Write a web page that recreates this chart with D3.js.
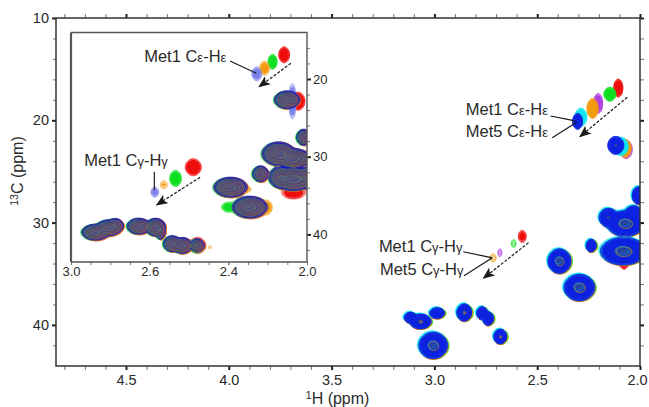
<!DOCTYPE html>
<html><head><meta charset="utf-8">
<script src="https://cdn.jsdelivr.net/npm/d3@7"></script>
<style>
html,body{margin:0;padding:0;background:#fff}
svg{display:block}
text{font-family:"Liberation Sans",Arial,sans-serif;fill:#2a2a2a}
</style></head><body>
<svg id="c" width="649" height="407"></svg>
<script>
// Peak format: [1H ppm, 13C ppm, 1H half-width, 13C half-width, intensity]
const mainSharedPeaks = [
 [2.394,33.72,.056,1.2,200],[2.297,36.30,.075,1.3,200],[2.240,32.20,.024,.62,60],
 [2.083,32.75,.112,1.35,200],[2.156,29.45,.045,.9,100],[2.073,30.04,.092,1.25,200],
 [2.034,29.06,.042,.75,80],[2.010,27.30,.030,.85,80],[3.070,39.62,.052,.72,120],
 [3.119,39.23,.030,.52,40],[2.989,38.80,.036,.52,80],[2.857,38.74,.036,.84,120],
 [2.770,38.80,.026,.62,80],[2.741,39.33,.026,.66,80],[2.682,41.09,.031,.72,120],
 [3.008,41.96,.07,1.3,200]
];
const mainRedPeaks    = [[2.108,16.8,.022,.88,30],[2.575,31.3,.019,.59,6],[2.08,33.9,.02,.6,10]];
const mainGreenPeaks  = [[2.149,17.4,.029,.68,30],[2.617,32.0,.012,.39,2.2],[2.07,22.7,.025,.6,20]];
const mainPurplePeaks = [[2.206,18.3,.022,.98,16],[2.684,32.9,.010,.39,2.2],[2.07,22.8,.03,.9,20]];
const mainOrangePeaks = [[2.233,18.8,.027,.98,30],[2.717,33.4,.015,.39,2.3],[2.075,22.7,.03,.9,40]];
const mainCyanPeaks   = [[2.290,19.65,.029,.88,30],[2.095,22.5,.035,.9,60]];
const mainBluePeaks   = [[2.306,20.05,.024,.78,40],[2.12,22.4,.039,.88,100]];

const insetSharedPeaks = [
 [2.086,22.61,.055,1.15,200],[2.326,33.86,.072,1.29,200],[2.244,36.43,.076,1.42,200],
 [2.199,32.14,.034,1.03,100],[2.122,29.56,.072,1.54,200],[2.059,30.17,.076,1.29,200],
 [2.016,27.43,.030,1.03,100],[2.059,32.78,.085,1.54,200],[2.114,32.57,.050,1.40,100],
 [2.004,32.60,.040,1.40,100],[2.898,39.65,.059,1.03,200],[2.842,39.09,.055,1.03,200],
 [2.814,38.79,.034,.90,100],[2.715,38.88,.050,1.03,200],[2.644,39.00,.042,1.15,200],
 [2.623,39.43,.021,1.15,100],[2.573,41.14,.038,1.03,200],[2.531,41.36,.042,1.03,200],
 [2.467,41.36,.030,.84,120]
];
const insetRedPeaks    = [[2.099,16.82,.023,1.03,30],[2.484,31.29,.034,1.09,30],[2.039,22.8,.028,1.15,30],[2.059,34.6,.05,.77,12],[2.467,41.3,.034,.98,12]];
const insetGreenPeaks  = [[2.148,17.72,.019,.97,25],[2.559,32.74,.025,1.03,25],[2.335,36.43,.03,.64,8],[2.467,41.5,.03,.8,12]];
const insetOrangePeaks = [[2.182,18.55,.021,.90,8],[2.609,33.55,.015,.51,2.9],[2.17,36.47,.02,.9,6],[2.253,34.16,.013,.32,2.4],[2.414,41.58,.008,.2,1.6]];
const insetPalePeaks   = [[2.215,19.27,.021,.90,8],[2.647,34.50,.017,.64,5],[2.064,22.8,.015,2.3,12]];

const mainXMajor = [4.5,4.0,3.5,3.0,2.5,2.0];
const mainXLabels = ["4.5","4.0","3.5","3.0","2.5","2.0"];
const mainYMajor = [10,20,30,40];
const insetYMajor = [20,30,40];
const insetXLabels = ["3.0","2.6","2.4","2.0"];

const colors = {red:"#f01010",green:"#10e020",purple:"#b040e0",orange:"#f49a10",cyan:"#10e8f0",blue:"#0a20e0",navy:"#1c1cb8",pale:"#7880e8"};

const svg = d3.select("#c");
const L=56,R=640,T=18,B=366;
const x = d3.scaleLinear().domain([2+(R-L)/205.6,2]).range([L,R]);
const y = d3.scaleLinear().domain([10,10+(B-T)/10.23]).range([T,B]);
const iL=71,iR=307,iT=32.5,iB=262;
const ix = d3.scaleLinear().domain([3,2]).range([iL,iR]);
const iy = d3.scaleLinear().domain([20+(iT-79)/7.77,20+(iB-79)/7.77]).range([iT,iB]);
const insetLabelPos = d3.scalePoint().domain(insetXLabels).range([iL,iR]);

const levels = d3.range(26).map(i=>Math.pow(1.25,i));
const fillLevel = 4;

function field(peaks,sx,sy,x0,y0,W,H){
  const v=new Float64Array(W*H);
  for(const [h,c,rh,rc,a] of peaks){
    const cx=sx(h)-x0, cy=sy(c)-y0;
    const rx=Math.abs(sx(h+rh)-sx(h)), ry=Math.abs(sy(c+rc)-sy(c));
    const k=Math.sqrt(2*Math.log(a));
    const sxx=rx/k, syy=ry/k;
    const xa=Math.max(0,Math.floor(cx-4*sxx)), xb=Math.min(W-1,Math.ceil(cx+4*sxx));
    const ya=Math.max(0,Math.floor(cy-4*syy)), yb=Math.min(H-1,Math.ceil(cy+4*syy));
    for(let j=ya;j<=yb;j++)for(let i=xa;i<=xb;i++){
      const dx=(i-cx)/sxx, dy=(j-cy)/syy;
      v[j*W+i]+=a*Math.exp(-.5*(dx*dx+dy*dy));
    }
  }
  return v;
}
function stack(g,series,sx,sy,x0,y0,W,H,mixStart,strokeW,core){
  const path=d3.geoPath(d3.geoTransform({point(a,b){this.stream.point(x0+a,y0+b);}}));
  const gen=d3.contours().size([W,H]).thresholds(levels);
  const rows=series.map(s=>({color:s.color,cs:gen(field(s.peaks,sx,sy,x0,y0,W,H)),shared:s.shared}));
  const draw=(color,c,op=1)=>{ if(c.coordinates.length) g.append("path").attr("d",path(c)).attr("fill","none")
      .attr("stroke",color).attr("stroke-width",strokeW).attr("stroke-opacity",op); };
  const fill=(color,c)=>{ if(c.coordinates.length) g.append("path").attr("d",path(c)).attr("fill",color); };
  rows.forEach(r=>{
    r.cs.forEach((c,i)=>{ if(i<=fillLevel) draw(r.color,c); });
    fill(r.color,r.cs[fillLevel]);
  });
  const mix=rows.filter(r=>r.shared);
  const top=mix[mix.length-1];
  fill(core.color,top.cs[core.level]);
  for(let i=mixStart;i<levels.length;i++){
    if(i===core.whiteLevel) fill("#f0f0f0",top.cs[i]);
    const r=mix[i%mix.length];
    draw(r.color,r.cs[i],core.ringOpacity);
    if(i%2===0) draw(top.color,top.cs[i],core.ringOpacity);
  }
}
const shifted=(list,dh,dc,s=1)=>list.map(([h,c,a,b,m])=>[h+dh,c+dc,a*s,b*s,m]);

// ---- clip paths and blur
const defs=svg.append("defs");
defs.append("clipPath").attr("id","mc").append("rect").attr("x",L).attr("y",T).attr("width",R-L).attr("height",B-T);
defs.append("clipPath").attr("id","ic").append("rect").attr("x",iL).attr("y",iT).attr("width",iR-iL).attr("height",iB-iT);
defs.append("filter").attr("id","soft").append("feGaussianBlur").attr("stdDeviation",.35);
defs.append("marker").attr("id","ah").attr("viewBox","0 0 12 10").attr("refX",11).attr("refY",5)
  .attr("markerWidth",12).attr("markerHeight",10).attr("markerUnits","userSpaceOnUse").attr("orient","auto")
  .append("path").attr("d","M0,0 L12,5 L0,10 L3,5 Z").attr("fill","#1a1a1a");

// ---- main contours
const mainG=svg.append("g").attr("clip-path","url(#mc)").append("g").attr("filter","url(#soft)");
stack(mainG,[
  {color:colors.red,shared:true,peaks:[...shifted(mainSharedPeaks,.001,.05),...mainRedPeaks]},
  {color:colors.green,shared:true,peaks:[...shifted(mainSharedPeaks,-.007,.03),...mainGreenPeaks]},
  {color:colors.purple,shared:true,peaks:[...shifted(mainSharedPeaks,-.001,0),...mainPurplePeaks]},
  {color:colors.orange,shared:true,peaks:[...shifted(mainSharedPeaks,-.003,.06),...mainOrangePeaks]},
  {color:colors.cyan,shared:true,peaks:[...shifted(mainSharedPeaks,.005,-.08,1.03),...mainCyanPeaks]},
  {color:colors.blue,shared:true,peaks:[...mainSharedPeaks,...mainBluePeaks]}
],x,y,340,T,R-340,B-T,21,.6,{level:20,color:"#2a4a9a",whiteLevel:25,ringOpacity:.8});

// ---- main axes
function styleAxis(g,major){
  g.select(".domain").remove();
  g.selectAll("line").attr("stroke",major?"#222":"#777").attr("stroke-width",major?2:1);
}
const minorX=d3.range(21,49).map(d=>d/10), minorY=d3.range(10,44,2);
const ax=(gen,tx,ty,vals,size,major,fmt,pad=5)=>{
  const g=svg.append("g").attr("transform",`translate(${tx},${ty})`)
    .call(gen.tickValues(vals).tickSize(size).tickPadding(pad).tickFormat(fmt||(()=>"")));
  styleAxis(g,major);
  return g;
};
ax(d3.axisBottom(x),0,B,minorX,4,false);
ax(d3.axisTop(x),0,T,minorX,4,false);
ax(d3.axisLeft(y),L,0,minorY,3,false);
ax(d3.axisRight(y),R,0,minorY,4,false);
const xLabelled=ax(d3.axisBottom(x),0,B,mainXMajor,4,true,(d,i)=>mainXLabels[i]);
xLabelled.selectAll("text").attr("font-size",14.5).attr("dx",(d,i)=>i===mainXMajor.length-1?-3:0);
ax(d3.axisTop(x),0,T,mainXMajor,4,true);
ax(d3.axisLeft(y),L,0,mainYMajor,4,true,d=>d,3).selectAll("text").attr("font-size",14.5);
ax(d3.axisRight(y),R,0,mainYMajor,4,true);
svg.append("rect").attr("x",L).attr("y",T).attr("width",R-L).attr("height",B-T)
  .attr("fill","none").attr("stroke","#333").attr("stroke-width",1.5);

// ---- inset
svg.append("rect").attr("x",iL).attr("y",iT).attr("width",iR-iL).attr("height",iB-iT).attr("fill","#fff");
const insetG=svg.append("g").attr("clip-path","url(#ic)").append("g").attr("filter","url(#soft)");
stack(insetG,[
  {color:colors.red,shared:true,peaks:[...shifted(insetSharedPeaks,-.003,.08),...insetRedPeaks]},
  {color:colors.green,shared:true,peaks:[...shifted(insetSharedPeaks,.004,.03),...insetGreenPeaks]},
  {color:colors.orange,shared:true,peaks:[...shifted(insetSharedPeaks,-.003,.06),...insetOrangePeaks]},
  {color:colors.pale,shared:false,peaks:[...insetPalePeaks]},
  {color:colors.navy,shared:true,peaks:[...insetSharedPeaks]}
],ix,iy,iL,iT,iR-iL,iB-iT,9,.45,{level:7,color:"#58587a",whiteLevel:24,ringOpacity:.55});
const iMinorY=d3.range(16,44,2);
ax(d3.axisRight(iy),iR,0,iMinorY,3,false);
ax(d3.axisRight(iy),iR,0,insetYMajor,4,true,d=>d,2).selectAll("text").attr("font-size",13);
const iMinorX=d3.range(0,13).map(i=>3-i/12);
ax(d3.axisBottom(ix),0,iB,iMinorX,3,false);
const ilab=svg.append("g").attr("transform",`translate(0,${iB})`)
  .call(d3.axisBottom(insetLabelPos).tickSize(3).tickPadding(2));
styleAxis(ilab,false);
ilab.selectAll("text").attr("font-size",13);
svg.append("path").attr("d",`M${iL},${iB}V${iT}`).attr("stroke","#555").attr("stroke-width",2.2).attr("fill","none");
svg.append("path").attr("d",`M${iL},${iT}H${iR}V${iB}H${iL}`).attr("stroke","#555").attr("stroke-width",1.4).attr("fill","none");

// ---- annotations (ppm anchors)
const dashedMain=[[2.062,17.75,2.292,21.6],[2.542,31.96,2.761,35.44]];
const leaderMain=[[2.435,19.58,2.316,20.05],[2.427,21.7,2.308,20.2],[2.86,32.85,2.717,33.44],[2.856,35.2,2.72,33.47]];
const dashedInset=[[2.068,17.98,2.203,20.99],[2.453,32.65,2.637,36.2]];
const leaderInset=[[2.326,17.68,2.215,19.27],[2.647,31.93,2.647,34.3]];
function seg(list,sx,sy,dashed){
  list.forEach(([a,b,c,d])=>{
    const l=svg.append("line").attr("x1",sx(a)).attr("y1",sy(b)).attr("x2",sx(c)).attr("y2",sy(d))
      .attr("stroke","#1a1a1a").attr("stroke-width",1.2);
    if(dashed) l.attr("stroke-dasharray","3 1.6").attr("marker-end","url(#ah)");
  });
}
seg(dashedMain,x,y,true); seg(leaderMain,x,y,false);
seg(dashedInset,ix,iy,true); seg(leaderInset,ix,iy,false);

function label(sx,sy,h,c,a,g){
  const t=svg.append("text").attr("x",sx(h)).attr("y",sy(c)).attr("font-size",16.5);
  t.append("tspan").text(a+" C");
  t.append("tspan").attr("font-size",13).text(g);
  t.append("tspan").text("-H");
  t.append("tspan").attr("font-size",13).text(g);
}
label(x,y,2.847,19.5,"Met1","ε");
label(x,y,2.847,21.65,"Met5","ε");
label(x,y,3.27,32.85,"Met1","γ");
label(x,y,3.265,35.15,"Met5","γ");
label(ix,iy,2.69,17.75,"Met1","ε");
label(ix,iy,2.944,31.2,"Met1","γ");

// ---- axis titles
const tx=svg.append("text").attr("x",x(3.5)+6).attr("y",404).attr("text-anchor","middle").attr("font-size",16);
tx.append("tspan").attr("font-size",10.5).attr("dy",-5).text("1");
tx.append("tspan").attr("dy",5).text("H (ppm)");
const ty=svg.append("text").attr("transform",`translate(23,171) rotate(-90)`).attr("text-anchor","middle").attr("font-size",16);
ty.append("tspan").attr("font-size",10.5).attr("dy",-5).text("13");
ty.append("tspan").attr("dy",5).text("C (ppm)");
</script>
</body></html>
